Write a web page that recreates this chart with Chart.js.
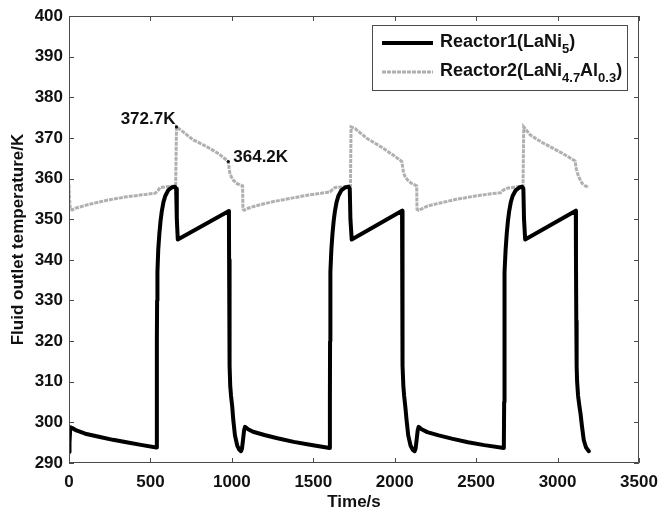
<!DOCTYPE html>
<html>
<head>
<meta charset="utf-8">
<script src="https://cdn.jsdelivr.net/npm/chart.js@4/dist/chart.umd.min.js"></script>
<style>
  html, body { margin: 0; padding: 0; background: #ffffff; }
  #wrap { width: 659px; height: 509px; }
</style>
</head>
<body>
<div id="wrap"><canvas id="tempChart" width="659" height="509"></canvas></div>
<script>
// Fluid outlet temperature of the two metal hydride reactors over three cycles
const timeTicks = [0, 500, 1000, 1500, 2000, 2500, 3000, 3500];
const tempTicks = [290, 300, 310, 320, 330, 340, 350, 360, 370, 380, 390, 400];

const reactor1Time = [
  0, 3, 8, 20, 45, 100, 190, 270, 353, 450, 537,
  539, 540, 541, 543, 548, 555, 562, 570, 580, 591, 609, 630, 650, 658, 662, 668,
  982, 983, 985, 987, 990, 995, 1002, 1009, 1019, 1033, 1045, 1056, 1062, 1068, 1075, 1081,
  1100, 1130, 1200, 1280, 1380, 1480, 1600,
  1602, 1603, 1604, 1606, 1611, 1618, 1625, 1633, 1643, 1654, 1672, 1695, 1716, 1724, 1728, 1736,
  2045, 2046, 2048, 2050, 2053, 2058, 2066, 2073, 2083, 2097, 2110, 2122, 2128, 2134, 2141, 2147,
  2165, 2200, 2270, 2350, 2450, 2550, 2670,
  2672, 2673, 2674, 2676, 2681, 2688, 2695, 2703, 2713, 2724, 2743, 2765, 2782, 2790, 2794, 2801,
  3112, 3113, 3115, 3117, 3120, 3126, 3134, 3141, 3150, 3161, 3175, 3192
];
const reactor1Temp = [
  292.7, 295, 298.8, 298.6, 298.0, 297.2, 296.4, 295.7, 295.1, 294.4, 293.8,
  305, 320, 330, 337, 342.5, 346.5, 349.5, 352, 354.2, 355.7, 357.1, 357.8, 358, 357.5, 350, 345,
  352, 340, 325, 314, 309, 306.5, 304, 300.5, 296.8, 294.3, 293.3, 292.9, 293.5, 295.5, 298, 298.9,
  298.3, 297.7, 296.9, 296.1, 295.2, 294.5, 293.7,
  305, 320, 330, 337, 342.5, 346.5, 349.5, 352, 354.2, 355.7, 357.1, 357.8, 358, 357.5, 350, 345,
  352.1, 340, 325, 314, 309, 306.5, 303.5, 300.5, 296.8, 294.3, 293.3, 292.9, 293.5, 295.5, 298, 298.9,
  298.3, 297.6, 296.8, 296.0, 295.1, 294.4, 293.7,
  305, 320, 330, 337, 342.5, 346.5, 349.5, 352, 354.2, 355.7, 357.1, 357.8, 358, 357.5, 350, 345,
  352.1, 340, 325, 314, 310, 306.5, 304, 302.1, 299, 295.6, 293.8, 292.9
];

const reactor2Time = [
  0, 3, 8, 20, 40, 100, 150, 250, 353, 450, 530, 545, 560, 600, 655,
  660, 701, 722, 763, 815, 865, 920, 978, 983, 988, 998, 1009, 1030, 1050, 1066,
  1068, 1075, 1100, 1150, 1250, 1357, 1450, 1550, 1603, 1615, 1634, 1700, 1728,
  1732, 1757, 1790, 1829, 1880, 1931, 1990, 2044, 2050, 2055, 2065, 2080, 2100, 2126, 2135,
  2137, 2147, 2200, 2280, 2380, 2480, 2580, 2649, 2665, 2690, 2740, 2788,
  2792, 2833, 2900, 2956, 3030, 3108, 3114, 3120, 3130, 3151, 3170, 3192
];
const reactor2Temp = [
  358.5, 355, 352.4, 352.3, 352.7, 353.4, 353.9, 354.8, 355.5, 356.0, 356.4, 357.0, 357.8, 358.0, 358.2,
  372.7, 371.5, 370.8, 369.5, 368.5, 367.4, 366.1, 364.2, 362.5, 361.3, 360.3, 359.6, 358.8, 358.4, 358.2,
  352.5, 352.2, 352.7, 353.3, 354.3, 355.1, 355.8, 356.4, 356.7, 357.2, 357.8, 358.0, 358.2,
  372.7, 372.3, 371.2, 369.9, 368.7, 367.4, 365.8, 364.2, 362.5, 361.3, 360.4, 359.6, 358.9, 358.4, 358.2,
  352.4, 352.2, 353.2, 354.0, 354.9, 355.6, 356.2, 356.5, 357.1, 357.6, 357.9, 358.1,
  372.7, 370.7, 369.0, 367.8, 366.2, 364.3, 362.5, 361.6, 360.4, 358.8, 358.2, 357.8
];

// values marked with a label on the second reactor's first cycle
const markedPoints = [
  { index: 15, text: '372.7K', align: 'right' },
  { index: 22, text: '364.2K', align: 'left' }
];

const FONT = '"Liberation Sans", Arial, Helvetica, sans-serif';
const FRAME = '#4a4a4a';
const GREY_LINE = '#b0b0b0';

function toPoints(xs, ys) {
  return xs.map((x, i) => ({ x, y: ys[i] }));
}

// box around the plot with inward ticks on all four sides
const frameTicks = {
  id: 'frameTicks',
  afterDatasetsDraw(chart) {
    const { ctx, chartArea: a, scales } = chart;
    const len = 5;
    ctx.save();
    ctx.strokeStyle = FRAME;
    ctx.lineWidth = 1;
    ctx.beginPath();
    ctx.rect(a.left + 0.5, a.top + 0.5, a.right - a.left - 1, a.bottom - a.top - 1);
    timeTicks.forEach((t) => {
      const px = Math.round(scales.x.getPixelForValue(t)) + 0.5;
      ctx.moveTo(px, a.bottom); ctx.lineTo(px, a.bottom - len);
      ctx.moveTo(px, a.top); ctx.lineTo(px, a.top + len);
    });
    tempTicks.forEach((v) => {
      const py = Math.round(scales.y.getPixelForValue(v)) + 0.5;
      ctx.moveTo(a.left, py); ctx.lineTo(a.left + len, py);
      ctx.moveTo(a.right, py); ctx.lineTo(a.right - len, py);
    });
    ctx.stroke();
    ctx.restore();
  }
};

// value labels next to the peak and the end of the slow decline
const pointLabels = {
  id: 'pointLabels',
  afterDatasetsDraw(chart) {
    const { ctx, scales } = chart;
    ctx.save();
    ctx.font = 'bold 17px ' + FONT;
    ctx.fillStyle = '#111';
    ctx.textBaseline = 'alphabetic';
    markedPoints.forEach((m) => {
      const px = scales.x.getPixelForValue(reactor2Time[m.index]);
      const py = scales.y.getPixelForValue(reactor2Temp[m.index]);
      ctx.beginPath();
      ctx.arc(px, py, 1.6, 0, Math.PI * 2);
      ctx.fill();
      if (m.align === 'right') {
        ctx.textAlign = 'right';
        ctx.fillText(m.text, px - 1, py - 3);
      } else {
        ctx.textAlign = 'left';
        ctx.fillText(m.text, px + 5, py + 1);
      }
    });
    ctx.restore();
  }
};

// legend box with subscripted alloy formulas
const formulaLegend = {
  id: 'formulaLegend',
  afterDraw(chart) {
    const { ctx } = chart;
    const box = { left: 372, top: 25, right: 627, bottom: 90 };
    const rows = [
      { y: 43, color: '#000', width: 4, dash: [], parts: [['Reactor1(LaNi', 0], ['5', 1], [')', 0]] },
      { y: 72, color: GREY_LINE, width: 3, dash: [4, 1], parts: [['Reactor2(LaNi', 0], ['4.7', 1], ['Al', 0], ['0.3', 1], [')', 0]] }
    ];
    ctx.save();
    ctx.fillStyle = '#fff';
    ctx.fillRect(box.left, box.top, box.right - box.left, box.bottom - box.top);
    ctx.strokeStyle = FRAME;
    ctx.lineWidth = 1;
    ctx.strokeRect(box.left + 0.5, box.top + 0.5, box.right - box.left, box.bottom - box.top);
    rows.forEach((row) => {
      ctx.beginPath();
      ctx.strokeStyle = row.color;
      ctx.lineWidth = row.width;
      ctx.setLineDash(row.dash);
      ctx.moveTo(382, row.y);
      ctx.lineTo(433, row.y);
      ctx.stroke();
      ctx.setLineDash([]);
      let x = 440;
      ctx.fillStyle = '#111';
      ctx.textAlign = 'left';
      ctx.textBaseline = 'alphabetic';
      row.parts.forEach(([text, sub]) => {
        ctx.font = sub ? 'bold 13px ' + FONT : 'bold 18px ' + FONT;
        ctx.fillText(text, x, sub ? row.y + 10 : row.y + 3.5);
        x += ctx.measureText(text).width;
      });
    });
    ctx.restore();
  }
};

const tickFont = { family: FONT, size: 17, weight: 'bold' };

new Chart(document.getElementById('tempChart'), {
  type: 'line',
  data: {
    datasets: [
      {
        label: 'Reactor1(LaNi5)',
        data: toPoints(reactor1Time, reactor1Temp),
        borderColor: '#000000',
        borderWidth: 4,
        pointRadius: 0,
        tension: 0,
        borderJoinStyle: 'round',
        borderCapStyle: 'round'
      },
      {
        label: 'Reactor2(LaNi4.7Al0.3)',
        data: toPoints(reactor2Time, reactor2Temp),
        borderColor: GREY_LINE,
        borderWidth: 3,
        borderDash: [4, 1],
        pointRadius: 0,
        tension: 0
      }
    ]
  },
  options: {
    responsive: false,
    animation: false,
    events: [],
    layout: { padding: { top: 16, right: 20, bottom: 0, left: 0 } },
    plugins: {
      legend: { display: false },
      tooltip: { enabled: false }
    },
    scales: {
      x: {
        type: 'linear',
        min: 0,
        max: 3500,
        afterBuildTicks(scale) { scale.ticks = timeTicks.map((v) => ({ value: v })); },
        afterFit(scale) {
          scale.height = 46;
          scale.paddingLeft = 0;
          scale.paddingRight = 0;
        },
        grid: { display: false, drawTicks: false },
        border: { display: false },
        ticks: {
          font: tickFont,
          color: '#111',
          padding: 9,
          maxRotation: 0,
          callback: (v) => String(v)
        },
        title: {
          display: true,
          text: 'Time/s',
          color: '#111',
          font: { family: FONT, size: 17, weight: 'bold', lineHeight: 1 },
          padding: { top: 0, bottom: -2 }
        }
      },
      y: {
        type: 'linear',
        min: 290,
        max: 400,
        afterBuildTicks(scale) { scale.ticks = tempTicks.map((v) => ({ value: v })); },
        afterFit(scale) {
          scale.width = 69;
          scale.paddingTop = 0;
          scale.paddingBottom = 0;
        },
        grid: { display: false, drawTicks: false },
        border: { display: false },
        ticks: { font: tickFont, color: '#111', padding: 6 },
        title: {
          display: true,
          text: 'Fluid outlet temperature/K',
          color: '#111',
          font: { family: FONT, size: 17, weight: 'bold', lineHeight: 1 },
          padding: { top: 10, bottom: 0 }
        }
      }
    }
  },
  plugins: [frameTicks, pointLabels, formulaLegend]
});
</script>
</body>
</html>
